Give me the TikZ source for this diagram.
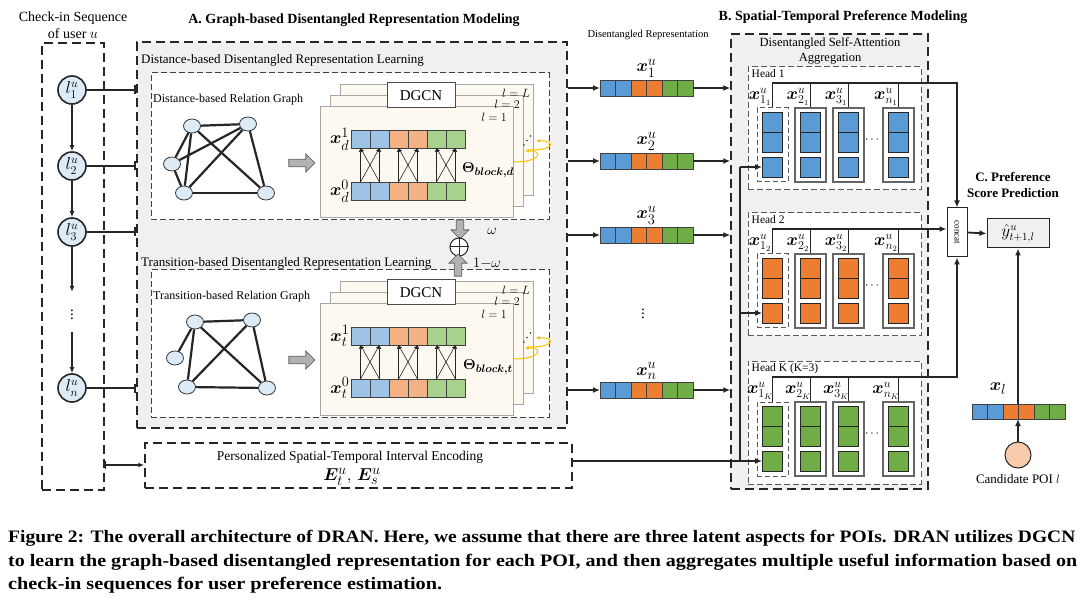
\documentclass[tikz,border=0pt]{standalone}
\usepackage{amsmath}
\usepackage{bm}
\usepackage{graphicx}
\usepackage{fontspec}
\setmainfont{Liberation Serif}
\usetikzlibrary{positioning, shapes.geometric, shapes.arrows, arrows.meta, calc, fit}

\definecolor{panelgray}{HTML}{F0F0F0}
\definecolor{pagefill}{HTML}{FDF9F0}
\definecolor{pageline}{HTML}{A6A6A6}
\definecolor{lblue}{HTML}{9DC3E6}
\definecolor{lorange}{HTML}{F4B183}
\definecolor{lgreen}{HTML}{A9D18E}
\definecolor{dblue}{HTML}{5B9BD5}
\definecolor{dorange}{HTML}{ED7D31}
\definecolor{dgreen}{HTML}{70AD47}
\definecolor{poiblue}{HTML}{DDEBF7}
\definecolor{loopgold}{HTML}{FFC000}
\definecolor{candpeach}{HTML}{F8CBAD}

\tikzset{
  outerbox/.style={draw=black!85, line width=1.5pt, dash pattern=on 9pt off 5pt, inner sep=0pt},
  innerbox/.style={draw=black!75, line width=1pt, dash pattern=on 6pt off 3pt, fill=white, inner sep=0pt},
  headbox/.style={draw=black!65, line width=1pt, dash pattern=on 6pt off 3pt, fill=white, inner sep=0pt},
  qbox/.style={draw=black!65, line width=1pt, dash pattern=on 5pt off 3pt, fill=white, inner sep=0pt},
  kbox/.style={draw=black!60, line width=1.2pt, fill=white, inner sep=0pt},
  conn/.style={draw=black!85, line width=1.8pt},
  tip/.style={-{Latex[length=7pt,width=6pt]}},
  seqarr/.style={draw=black!85, line width=1.2pt, -{Latex[length=6pt,width=5pt]}},
  thinarr/.style={draw=black!85, line width=0.6pt, -{Latex[length=4pt,width=3.5pt]}},
  loopy/.style={draw=loopgold, line width=1pt, -{Latex[length=4pt,width=4pt]}},
  cellline/.style={draw=black!75, line width=0.8pt},
  qcell/.style={draw=black!85, line width=0.9pt, minimum size=20pt, inner sep=0pt},
  lnode/.style={circle, draw=black!85, line width=1.6pt, fill=poiblue, minimum size=28pt, inner sep=0pt, font=\fontsize{17}{19}\selectfont},
  gnode/.style={ellipse, draw=black!80, line width=0.8pt, fill=poiblue, minimum width=17pt, minimum height=14pt, inner sep=0pt},
  gedge/.style={draw=black!85, line width=2.2pt},
  page/.style={draw=pageline, line width=1pt, fill=pagefill, inner sep=0pt},
  dgcnbox/.style={draw=black!70, line width=1pt, fill=white, minimum width=68pt, minimum height=25pt, inner sep=0pt, font=\fontsize{15}{17}\selectfont},
  blockarr/.style={single arrow, draw=black!60, line width=0.8pt, fill=black!30, minimum width=18pt, single arrow head extend=4pt, inner sep=2.5pt},
  secttl/.style={font=\bfseries\fontsize{14}{16}\selectfont, inner sep=0pt},
  sublbl/.style={font=\fontsize{13}{15}\selectfont, inner sep=0pt},
  smalllbl/.style={font=\fontsize{12}{14}\selectfont, inner sep=0pt},
  lyrlbl/.style={font=\fontsize{12}{14}\selectfont, inner sep=0pt},
  vlbl/.style={font=\fontsize{19}{21}\selectfont, inner sep=0.5pt},
  headlbl/.style={font=\fontsize{11.5}{13}\selectfont, inner sep=0pt},
  clbl/.style={font=\fontsize{17}{19}\selectfont, inner sep=0pt},
  caplbl/.style={font=\bfseries\fontsize{17.5}{20}\selectfont, inner sep=0pt},
}

% a row of six cells: name, centre, cell width, height, palette (l or d)
\newcommand{\cellvec}[5]{%
  \node[inner sep=0pt, outer sep=0pt, minimum width={6*#3pt}, minimum height={#4pt}] (#1) at #2 {};
  \foreach \c [count=\i from 0] in {blue,blue,orange,orange,green,green}
    \draw[cellline, fill=#5\c] ($(#1.north west)+(\i*#3,0)$) rectangle ++(#3,#4);
}

\begin{document}
\begin{tikzpicture}[x=1pt, y=-1pt]
  \path[fill=white] (0,0) rectangle (1088,604);

  % ---------- check-in sequence ----------
  \node[font=\fontsize{14}{17}\selectfont, align=center, inner sep=0pt] (seqttl) at (73,25) {Check-in Sequence\\of user $u$};
  \node[outerbox, fit={(42,43)(104,490)}] (seqbox) {};
  \node[lnode] (l1) at (72,90) {$l^u_1$};
  \node[lnode] (l2) at (72,166) {$l^u_2$};
  \node[lnode] (l3) at (72,232) {$l^u_3$};
  \node[minimum height=40pt, inner sep=0pt, font=\fontsize{15}{17}\selectfont] (ldots) at (72,312) {$\vdots$};
  \node[lnode] (ln) at (72,388) {$l^u_n$};
  \draw[seqarr] (l1) -- (l2);
  \draw[seqarr] (l2) -- (l3);
  \draw[seqarr] (l3) -- (ldots.north);
  \draw[seqarr] (ldots.south) -- (ln);

  % ---------- A. graph-based disentangled representation ----------
  \node[secttl] (ttlA) at (354,20) {A. Graph-based Disentangled Representation Modeling};
  \node[outerbox, fill=panelgray, fit={(137,42)(567,428)}] (boxA) {};
  \foreach \n in {l1,l2,l3,ln}
    \draw[conn, -{Bar[width=9pt]}] (\n) -- (\n -| boxA.west);

  \foreach \oy/\sb/\kind/\sy in {0/d/Distance/60, 197/t/Transition/66} {
    \node[sublbl, anchor=west] (sub\sb) at (141,\sy+\oy) {\kind-based Disentangled Representation Learning};
    \begin{scope}[shift={(0,\oy)}]
      \node[innerbox, fit={(151,73)(549,220)}] (in\sb) {};
      \node[smalllbl, anchor=west] (rg\sb) at (153,100) {\kind-based Relation Graph};
      \node[blockarr, minimum height=26pt] (ba\sb) at (300,163) {};
      % stacked layers
      \foreach \k/\d in {3/20, 2/10, 1/0}
        \node[page, fit={(320+\d,107-1.1*\d)(513+\d,218-1.1*\d)}] (pg\sb\k) {};
      \node[dgcnbox] (dg\sb) at (421,95.5) {DGCN};
      \node[lyrlbl, anchor=east] (lL\sb) at (530,93) {$l=L$};
      \node[lyrlbl, anchor=east] (l2\sb) at (520,104) {$l=2$};
      \node[lyrlbl, anchor=east] (l1\sb) at (507,117) {$l=1$};
      \cellvec{top\sb}{(408,139)}{19}{18}{l}
      \cellvec{bot\sb}{(408,191)}{19}{18}{l}
      \node[vlbl, left=1pt of top\sb] (xa\sb) {$\bm{x}^1_{\sb}$};
      \node[vlbl, left=1pt of bot\sb] (xb\sb) {$\bm{x}^0_{\sb}$};
      \foreach \p in {0,1,2}
        \foreach \a/\b in {0/0,1/1,0/1,1/0}
          \draw[thinarr] ($(bot\sb.north west)+(\p*38+\a*19+9.5,0)$) -- ($(top\sb.south west)+(\p*38+\b*19+9.5,0)$);
      \node[font=\fontsize{15.5}{17}\selectfont, inner sep=0pt] (th\sb) at (488,170) {$\bm{\Theta}_{\bm{block,\sb}}$};
      \foreach \dx/\dy in {524/145, 527/140.5, 530.5/136}
        \fill[black!80] (\dx,\dy) circle (0.9);
      \draw[loopy] (514,162) .. controls (542,162) and (543,150) .. (525,151);
      \draw[loopy] (530,150) .. controls (556,150) and (555,140) .. (536,141);
    \end{scope}
  }

  % distance-based relation graph
  \node[gnode] (gA) at (192,126) {};
  \node[gnode] (gB) at (248,124) {};
  \node[gnode] (gC) at (172,164) {};
  \node[gnode] (gD) at (184,193) {};
  \node[gnode] (gE) at (266,193) {};
  \foreach \u/\v in {gA/gB, gA/gC, gA/gD, gA/gE, gB/gC, gB/gD, gB/gE, gC/gD, gD/gE}
    \draw[gedge] (\u) -- (\v);

  % transition-based relation graph
  \node[gnode] (hA) at (195,322) {};
  \node[gnode] (hB) at (252,320) {};
  \node[gnode] (hC) at (175,358) {};
  \node[gnode] (hD) at (187,387) {};
  \node[gnode] (hE) at (267,388) {};
  \foreach \u/\v in {hA/hB, hA/hC, hA/hD, hA/hE, hB/hD, hB/hE, hD/hE}
    \draw[gedge] (\u) -- (\v);

  % weighted sum of both views
  \node[blockarr, minimum height=19pt, rotate=-90] (bdn) at (460,227.5) {};
  \node[circle, draw=black!85, line width=1pt, fill=white, minimum size=18pt, inner sep=0pt] (sum) at (459,247) {};
  \draw[black!85, line width=1pt] (sum.north) -- (sum.south) (sum.west) -- (sum.east);
  \node[blockarr, minimum height=22pt, rotate=90] (bup) at (458,267) {};
  \node[font=\fontsize{14}{16}\selectfont, inner sep=0pt] (wt) at (492,231) {$\omega$};
  \node[font=\fontsize{14}{16}\selectfont, inner sep=0pt] (wb) at (487,263) {$1{-}\omega$};

  % interval encoding
  \node[outerbox, fill=white, fit={(145,443)(572,488)}] (pers) {};
  \node[font=\fontsize{13.5}{16}\selectfont, inner sep=0pt] (perst) at (350,457) {Personalized Spatial-Temporal Interval Encoding};
  \node[font=\fontsize{19}{21}\selectfont, inner sep=0pt] (perse) at (352,477) {$\bm{E}^u_t,\, \bm{E}^u_s$};
  \draw[conn, line width=1.2pt, {Bar[width=8pt]}-{Latex[length=6pt,width=5pt]}] (seqbox.east |- 0,465) -- (pers.west |- 0,465);

  % ---------- disentangled representations ----------
  \node[font=\fontsize{10.5}{12}\selectfont, inner sep=0pt] (drttl) at (648,35) {Disentangled Representation};
  \foreach \r/\ry/\s in {1/88/1, 2/161/2, 3/235/3, 4/390/n} {
    \cellvec{xv\r}{(646.5,\ry)}{15.5}{16}{d}
    \node[vlbl, above=2pt of xv\r] (xl\r) {$\bm{x}^u_{\s}$};
  }
  \node[font=\fontsize{15}{17}\selectfont, inner sep=0pt] (xdots) at (643,311) {$\vdots$};

  % ---------- B. spatial-temporal preference ----------
  \node[secttl] (ttlB) at (843,17) {B. Spatial-Temporal Preference Modeling};
  \node[outerbox, fill=panelgray, fit={(731,34)(928,489)}] (boxB) {};
  \node[font=\fontsize{12.5}{15}\selectfont, align=center, inner sep=0pt] (sattl) at (830,51) {Disentangled Self-Attention\\Aggregation};
  \foreach \r in {1,2,3,4} {
    \draw[conn, tip] (xv\r -| boxA.east) -- (xv\r.west);
    \draw[conn, tip] (xv\r.east) -- (xv\r -| boxB.west);
  }

  \foreach \h/\oy/\hc/\hname/\hs in {1/0/blue/Head 1/1, 2/146/orange/Head 2/2, 3/294/green/Head K (K=3)/K} {
    \node[headbox, fit={(748,67+\oy)(921,190+\oy)}] (head\h) {};
    \node[headlbl, anchor=north west] (hl\h) at ([shift={(4,3)}]head\h.north west) {\hname};
    \coordinate (bus\h) at (772,83+\oy);
    \foreach \cx/\cn [count=\j] in {757/1, 795/2, 833/3, 883/n} {
      \ifnum\j=1
        \node[qbox, fit={(\cx,108+\oy)(\cx+31,182+\oy)}] (c\h\j) {};
      \else
        \node[kbox, fit={(\cx,108+\oy)(\cx+31,182+\oy)}] (c\h\j) {};
      \fi
      \foreach \rr/\ry in {a/122, b/142, c/167}
        \node[qcell, fill=d\hc] (q\h\j\rr) at (\cx+15.5,\ry+\oy) {};
      \node[clbl] (cl\h\j) at (\cx+3,97+\oy) {$\bm{x}^u_{\cn_{\hs}}$};
      \draw[conn] (c\h\j.north) -- (c\h\j.north |- bus\h);
    }
    \node[font=\fontsize{12}{14}\selectfont, inner sep=0pt] (hd\h) at (873,140+\oy) {$\cdots$};
  }

  % interval encoding feeds every head
  \coordinate (spine) at (740,0);
  \draw[conn, tip] (pers.east |- q31c) -- (q31c.west);
  \draw[conn] (spine |- q31c) -- (spine |- q11c);
  \draw[conn, tip] (spine |- q11c) -- (q11c.west);
  \draw[conn, tip] (spine |- q21c) -- (q21c.west);

  % ---------- C. preference score prediction ----------
  \node[font=\bfseries\fontsize{13}{16}\selectfont, align=center, inner sep=0pt] (ttlC) at (1013,185) {C. Preference\\Score Prediction};
  \node[draw=black!85, line width=1pt, fill=white, minimum width=20pt, minimum height=49pt, inner sep=0pt, font=\fontsize{9}{10}\selectfont] (cc) at (957,232.5) {\rotatebox{-90}{concat}};
  \node[draw=black!85, line width=1pt, fill=black!6, minimum width=62pt, minimum height=29pt, inner sep=0pt, font=\fontsize{16}{18}\selectfont] (yh) at (1018,233.5) {$\hat{y}^u_{t+1,l}$};
  \draw[conn, tip] (bus1) -| (cc.north);
  \draw[conn, tip] (bus2) -- (bus2 -| cc.west);
  \draw[conn, tip] (bus3) -| (cc.south);
  \draw[conn, tip] (cc.east) -- (yh.west);

  \cellvec{xc}{(1018.5,411.5)}{15.5}{15}{d}
  \node[vlbl] (xcl) at (998,389) {$\bm{x}_l$};
  \node[circle, draw=black!85, line width=1pt, fill=candpeach, minimum size=26pt, inner sep=0pt] (cand) at (1018,455) {};
  \node[font=\fontsize{13}{15}\selectfont, inner sep=0pt] (candl) at (1018,479) {Candidate POI $l$};
  \draw[conn, tip] (cand.north) -- (xc.south -| cand.north);
  \draw[conn, tip] (xc.north -| yh.south) -- (yh.south);

  % ---------- caption ----------
  \node[caplbl, anchor=base west] (cap1) at (8,542) {\resizebox{1067pt}{\height}{Figure 2: The overall architecture of DRAN. Here, we assume that there are three latent aspects for POIs. DRAN utilizes DGCN}};
  \node[caplbl, anchor=base west] (cap2) at (8,566) {\resizebox{1069pt}{\height}{to learn the graph-based disentangled representation for each POI, and then aggregates multiple useful information based on}};
  \node[caplbl, anchor=base west] (cap3) at (8,589) {\resizebox{434pt}{\height}{check-in sequences for user preference estimation.}};
\end{tikzpicture}
\end{document}
